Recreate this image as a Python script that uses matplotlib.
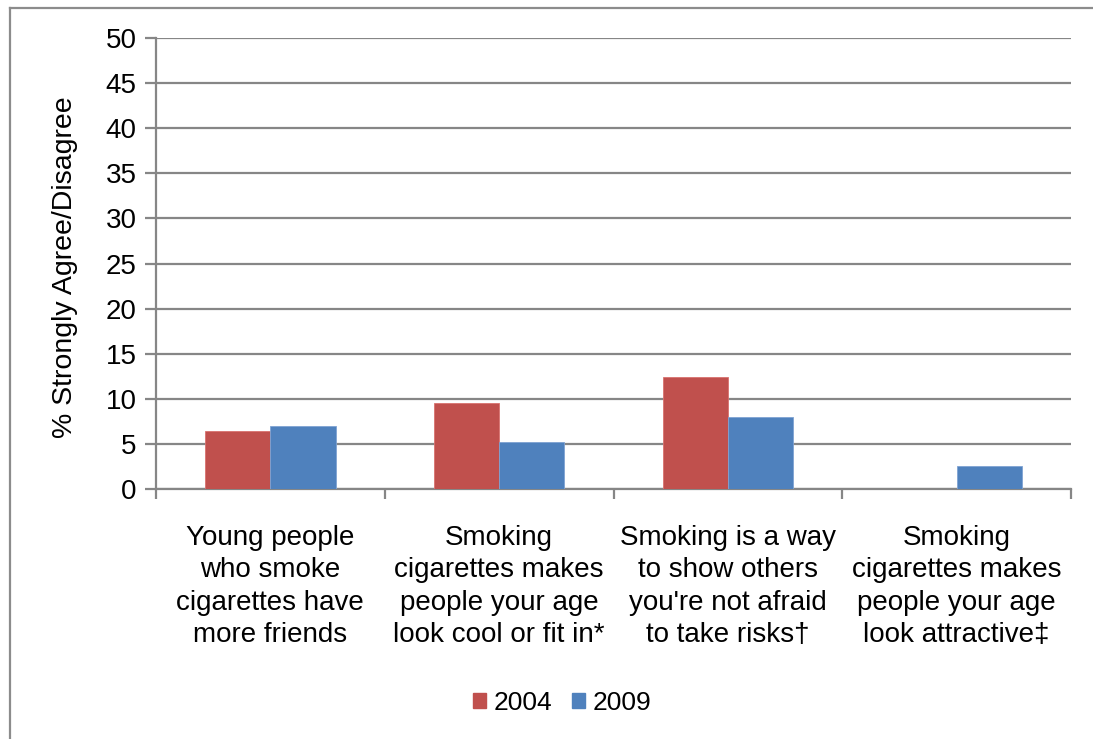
import numpy as np
import matplotlib
matplotlib.use("Agg")
import matplotlib.pyplot as plt
from matplotlib.lines import Line2D
from matplotlib.patches import Patch

categories = [
    "Young people\nwho smoke\ncigarettes have\nmore friends",
    "Smoking\ncigarettes makes\npeople your age\nlook cool or fit in*",
    "Smoking is a way\nto show others\nyou're not afraid\nto take risks\u2020",
    "Smoking\ncigarettes makes\npeople your age\nlook attractive\u2021",
]
series_names = ["2004", "2009"]
values_2004 = [6.4, 9.5, 12.4, np.nan]
values_2009 = [7.0, 5.2, 8.0, 2.5]
y_ticks = [0, 5, 10, 15, 20, 25, 30, 35, 40, 45, 50]

RED = "#C0504D"
BLUE = "#4F81BD"
GRID = "#868686"

plt.rcParams["font.family"] = ["Liberation Sans", "DejaVu Sans"]

W, H = 1093, 739
fig = plt.figure(figsize=(W / 100, H / 100), dpi=100)
fig.patch.set_facecolor("white")

# outer chart frame: left and top edges (the rest runs off the canvas)
fx, fy = 9.5 / W, 1 - 7.5 / H
fig.add_artist(Line2D([fx, fx], [0, fy], transform=fig.transFigure,
                      color="#8C8C8C", linewidth=1.6, solid_capstyle="projecting"))
fig.add_artist(Line2D([fx, 1], [fy, fy], transform=fig.transFigure,
                      color="#8C8C8C", linewidth=1.6, solid_capstyle="projecting"))

ax = fig.add_axes([156 / W, (H - 489) / H, (1071 - 156) / W, (489 - 38) / H])

x = np.arange(len(categories))
bw = 1 / 3.5
ax.bar(x - bw / 2, values_2004, width=bw, color=RED, edgecolor="#D9726F", linewidth=0.6, zorder=3)
ax.bar(x + bw / 2, values_2009, width=bw, color=BLUE, edgecolor="#7FA3D3", linewidth=0.6, zorder=3)

ax.set_xlim(-0.5, len(categories) - 0.5)
ax.set_ylim(0, 50)
ax.set_yticks(y_ticks)
ax.set_yticklabels([str(v) for v in y_ticks], fontsize=20)
ax.yaxis.grid(True, color=GRID, linewidth=1.6, zorder=0)
ax.set_axisbelow(True)

ax.set_xticks(x)
ax.set_xticklabels(categories, fontsize=20, linespacing=1.31)
ax.tick_params(axis="x", which="major", length=0, pad=26)
ax.set_xticks(np.arange(-0.5, len(categories)), minor=True)
ax.tick_params(axis="x", which="minor", length=7, width=1.6, color=GRID, direction="out")
ax.tick_params(axis="y", length=8, width=1.6, color=GRID, direction="out", pad=6)

for side in ["top", "right"]:
    ax.spines[side].set_visible(False)
for side in ["left", "bottom"]:
    ax.spines[side].set_color(GRID)
    ax.spines[side].set_linewidth(1.6)

fig.text(65 / W, 1 - 267 / H, "% Strongly Agree/Disagree", rotation=90,
         fontsize=20.5, ha="center", va="center")

handles = [Patch(facecolor=RED, edgecolor=RED), Patch(facecolor=BLUE, edgecolor=BLUE)]
fig.legend(handles, series_names, loc="center", bbox_to_anchor=(562 / W, 1 - 703 / H),
           ncol=2, frameon=False, fontsize=19, handlelength=0.5, handleheight=0.5,
           handletextpad=0.27, columnspacing=0.75)

fig.savefig("out.png", dpi=100, facecolor="white")
